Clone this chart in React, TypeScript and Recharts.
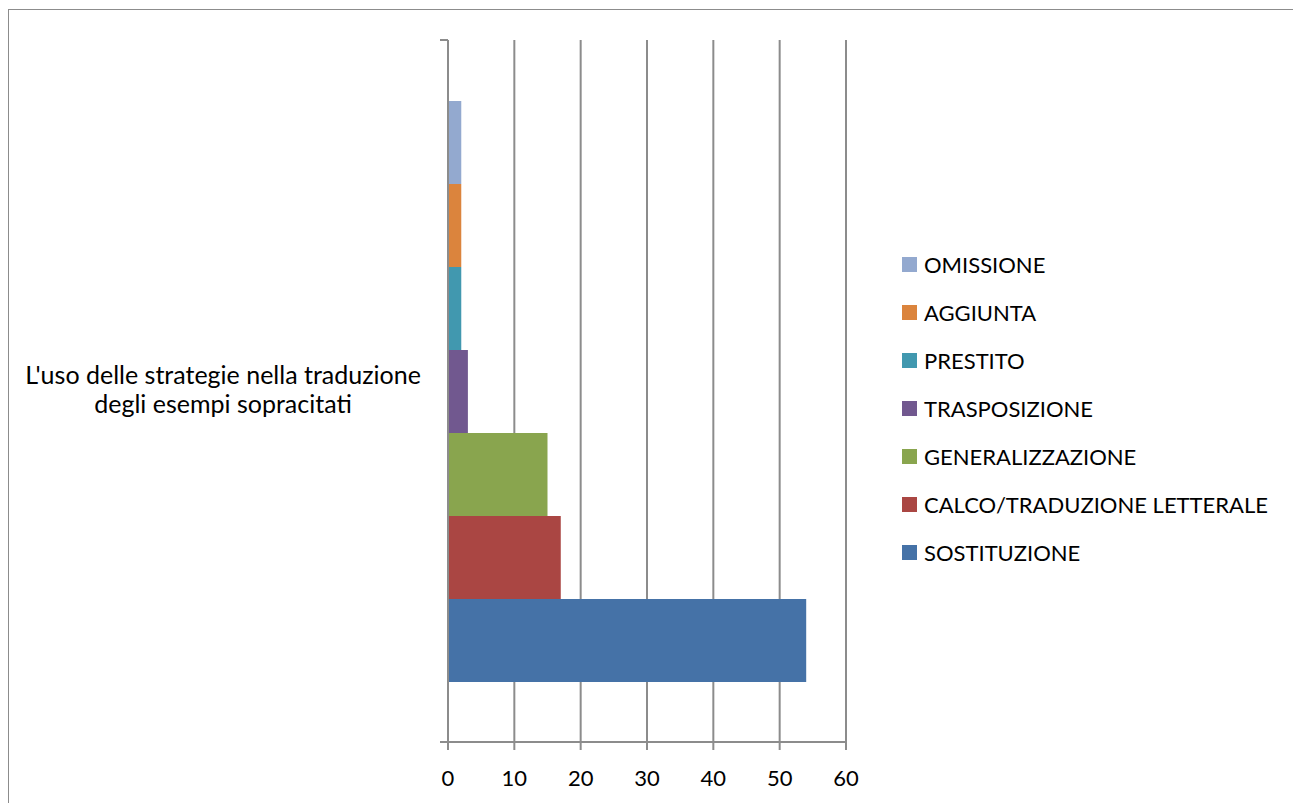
import React from 'react';
import { Bar, BarChart, CartesianGrid, Legend, XAxis, YAxis, usePlotArea } from 'recharts';

const categories = ["L'uso delle strategie nella traduzione|degli esempi sopracitati"];

// top-to-bottom order as drawn
const seriesNames = [
  'OMISSIONE',
  'AGGIUNTA',
  'PRESTITO',
  'TRASPOSIZIONE',
  'GENERALIZZAZIONE',
  'CALCO/TRADUZIONE LETTERALE',
  'SOSTITUZIONE',
];
const seriesValues = [2, 2, 2, 3, 15, 17, 54];
const seriesColors = ['#93A9CF', '#DB843D', '#4198AF', '#71588F', '#89A54E', '#AA4643', '#4572A7'];
const xTicks = [0, 10, 20, 30, 40, 50, 60];

const data = categories.map((cat) => {
  const row: Record<string, string | number> = { name: cat };
  seriesNames.forEach((s, i) => {
    row[s] = seriesValues[i];
  });
  return row;
});

const FONT = 'Lato, "Noto Sans", sans-serif';
const GRID = '#8c8c8c';

function CategoryTick(props: any) {
  const { x, y, payload } = props;
  const lines = String(payload.value).split('|');
  return (
    <text x={x - 217} y={y} textAnchor="middle" fontFamily={FONT} fontSize={25} fill="#000">
      {lines.map((l, i) => (
        <tspan key={i} x={x - 217} dy={i === 0 ? -7 : 29}>
          {l}
        </tspan>
      ))}
    </text>
  );
}

function BoundaryTicks() {
  const area = usePlotArea();
  if (!area) return null;
  return (
    <g>
      <line x1={area.x - 8} x2={area.x} y1={area.y} y2={area.y} stroke={GRID} strokeWidth={2} />
      <line
        x1={area.x - 8}
        x2={area.x}
        y1={area.y + area.height}
        y2={area.y + area.height}
        stroke={GRID}
        strokeWidth={2}
      />
    </g>
  );
}

function LegendContent() {
  return (
    <div style={{ fontFamily: FONT, fontSize: 22, color: '#000' }}>
      {seriesNames.map((s, i) => (
        <div key={s} style={{ display: 'flex', alignItems: 'center', height: 48 }}>
          <span
            style={{ width: 15, height: 15, background: seriesColors[i], display: 'inline-block', marginRight: 7 }}
          />
          <span style={{ whiteSpace: 'nowrap' }}>{s}</span>
        </div>
      ))}
    </div>
  );
}

export default function App() {
  return (
    <div
      style={{
        width: 1291,
        height: 794,
        border: '1px solid #8c8c8c',
        borderBottom: 'none',
        marginTop: 1,
        position: 'relative',
        background: '#fff',
      }}
    >
      <BarChart
        width={1291}
        height={794}
        data={data}
        layout="vertical"
        margin={{ top: 30, right: 54, bottom: 32, left: 0 }}
        barGap={0}
        barSize={83}
      >
        <CartesianGrid horizontal={false} vertical stroke={GRID} strokeWidth={2} />
        <XAxis
          type="number"
          domain={[0, 60]}
          ticks={xTicks}
          interval={0}
          height={30}
          tickSize={8}
          tickMargin={20}
          axisLine={{ stroke: GRID, strokeWidth: 2 }}
          tickLine={{ stroke: GRID, strokeWidth: 2 }}
          tick={{ fill: '#000', fontSize: 22, fontFamily: FONT }}
        />
        <YAxis
          type="category"
          dataKey="name"
          width={439}
          axisLine={{ stroke: GRID, strokeWidth: 2 }}
          tickLine={false}
          tick={<CategoryTick />}
        />
        <Legend
          layout="vertical"
          align="right"
          verticalAlign="middle"
          width={400}
          height={336}
          content={<LegendContent />}
          wrapperStyle={{ left: 893, top: 230, right: 'auto', bottom: 'auto' }}
        />
        {seriesNames.map((s, i) => (
          <Bar key={s} dataKey={s} fill={seriesColors[i]} isAnimationActive={false} />
        ))}
        <BoundaryTicks />
      </BarChart>
    </div>
  );
}
